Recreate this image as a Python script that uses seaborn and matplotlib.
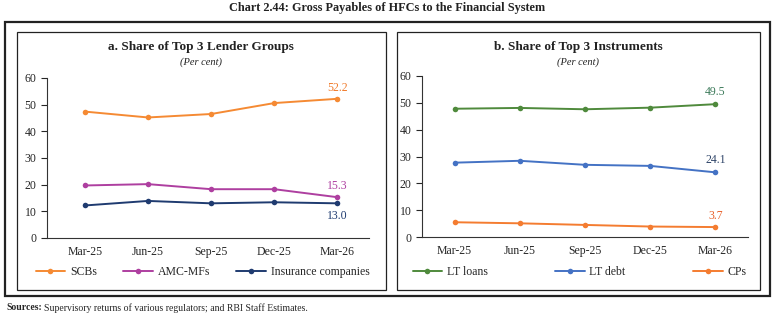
import matplotlib
matplotlib.use("Agg")
import matplotlib.pyplot as plt
from matplotlib.patches import Rectangle
import seaborn as sns
import pandas as pd

# --- datos ---
quarters = ['Mar-25', 'Jun-25', 'Sep-25', 'Dec-25', 'Mar-26']

scbs = [47.4, 45.2, 46.5, 50.6, 52.2]
amc_mfs = [19.7, 20.2, 18.3, 18.3, 15.3]
insurance = [12.2, 13.9, 13.0, 13.4, 13.0]

lt_loans = [47.8, 48.1, 47.6, 48.2, 49.5]
lt_debt = [27.7, 28.4, 26.9, 26.5, 24.1]
cps = [5.5, 5.1, 4.5, 3.9, 3.7]

y_ticks = [0, 10, 20, 30, 40, 50, 60]

sns.set_style("white")
plt.rcParams['font.family'] = ['Liberation Serif', 'DejaVu Serif']

W, H = 775, 319
fig = plt.figure(figsize=(7.75, 3.19), dpi=100)


def fx(px):
    return px / W


def fy(py):
    return 1 - py / H


def box(x0, y0, x1, y1, lw):
    fig.add_artist(Rectangle((fx(x0), fy(y1)), fx(x1 - x0), (y1 - y0) / H,
                             transform=fig.transFigure, fill=False,
                             edgecolor='#222222', linewidth=lw))


# marcos
box(5, 22, 770, 296, 1.6)
box(17, 32, 386, 290, 0.9)
box(397, 32, 760, 290, 0.9)

fig.text(0.5, fy(8), 'Chart 2.44: Gross Payables of HFCs to the Financial System',
         ha='center', va='center', fontsize=8.8, fontweight='bold', color='#222222')

# fuentes: parte en negrita + resto
src_bold = fig.text(fx(6), fy(308), 'Sources:', ha='left', va='center',
                    fontsize=7, fontweight='bold')
renderer = fig.canvas.get_renderer()
bb = src_bold.get_window_extent(renderer=renderer)
fig.text(fx(bb.x1 + 2), fy(308), 'Supervisory returns of various regulators; and RBI Staff Estimates.',
         ha='left', va='center', fontsize=7)


def panel(rect, xlim, series, title, title_x, legend_rect):
    ax = fig.add_axes(rect)
    rows = []
    for name, vals, col, lab_off, lab_col in series:
        for i, v in enumerate(vals):
            rows.append({'x': i, 'y': v, 'serie': name})
    df = pd.DataFrame(rows)
    palette = {s[0]: s[2] for s in series}
    sns.lineplot(data=df, x='x', y='y', hue='serie', palette=palette,
                 marker='o', markersize=4, markeredgewidth=0, linewidth=1.4,
                 ax=ax, legend=True)
    for name, vals, col, lab_off, lab_col in series:
        ax.annotate(f'{vals[-1]:.1f}', (4, vals[-1]), xytext=(0, lab_off),
                    textcoords='offset points', ha='center', va='center',
                    fontsize=8.5, color=lab_col)
    ax.set_xlim(*xlim)
    ax.set_ylim(0, 60)
    ax.set_yticks(y_ticks)
    ax.set_xticks(range(len(quarters)))
    ax.set_xticklabels(quarters)
    ax.set_xticks([x + 0.5 for x in range(-1, 5)], minor=True)
    ax.tick_params(axis='x', which='major', length=0, labelsize=8.5, pad=6)
    ax.tick_params(axis='x', which='minor', length=4, width=0.8, direction='out')
    ax.tick_params(axis='y', length=4, width=0.8, labelsize=8.5, direction='out', left=True)
    ax.set_xlabel('')
    ax.set_ylabel('')
    for s in ['top', 'right']:
        ax.spines[s].set_visible(False)
    for s in ['left', 'bottom']:
        ax.spines[s].set_color('#333333')
        ax.spines[s].set_linewidth(0.8)
    ax.patch.set_alpha(0)
    handles, labels = ax.get_legend_handles_labels()
    ax.get_legend().remove()
    fig.legend(handles, labels, loc='center', ncol=3, mode='expand',
               bbox_to_anchor=legend_rect, frameon=False, fontsize=8.5,
               handlelength=2.5, handletextpad=0.4)
    fig.text(fx(title_x), fy(47), title, ha='center', va='center',
             fontsize=9.5, fontweight='bold', color='#222222')
    fig.text(fx(title_x), fy(62), '(Per cent)', ha='center', va='center',
             fontsize=7.5, style='italic', color='#222222')
    return ax


left_series = [
    ('SCBs', scbs, '#F58A33', 8, '#F07A2A'),
    ('AMC-MFs', amc_mfs, '#AE3FA0', 8, '#AE3FA0'),
    ('Insurance companies', insurance, '#1F3B70', -9, '#1F3B70'),
]
right_series = [
    ('LT loans', lt_loans, '#4F8A3C', 9, '#3C7A5A'),
    ('LT debt', lt_debt, '#4472C4', 9, '#2E4468'),
    ('CPs', cps, '#F47C30', 8, '#E8602A'),
]

panel([fx(47), fy(238), fx(369) - fx(47), fy(78) - fy(238)], (-0.6, 4.5),
      left_series, 'a. Share of Top 3 Lender Groups', 201,
      (fx(25), fy(283), fx(380) - fx(25), fy(261) - fy(283)))
panel([fx(422), fy(237), fx(748) - fx(422), fy(76) - fy(237)], (-0.5, 4.5),
      right_series, 'b. Share of Top 3 Instruments', 578,
      (fx(402), fy(283), fx(757) - fx(402), fy(261) - fy(283)))

fig.savefig('out.png', dpi=100)
